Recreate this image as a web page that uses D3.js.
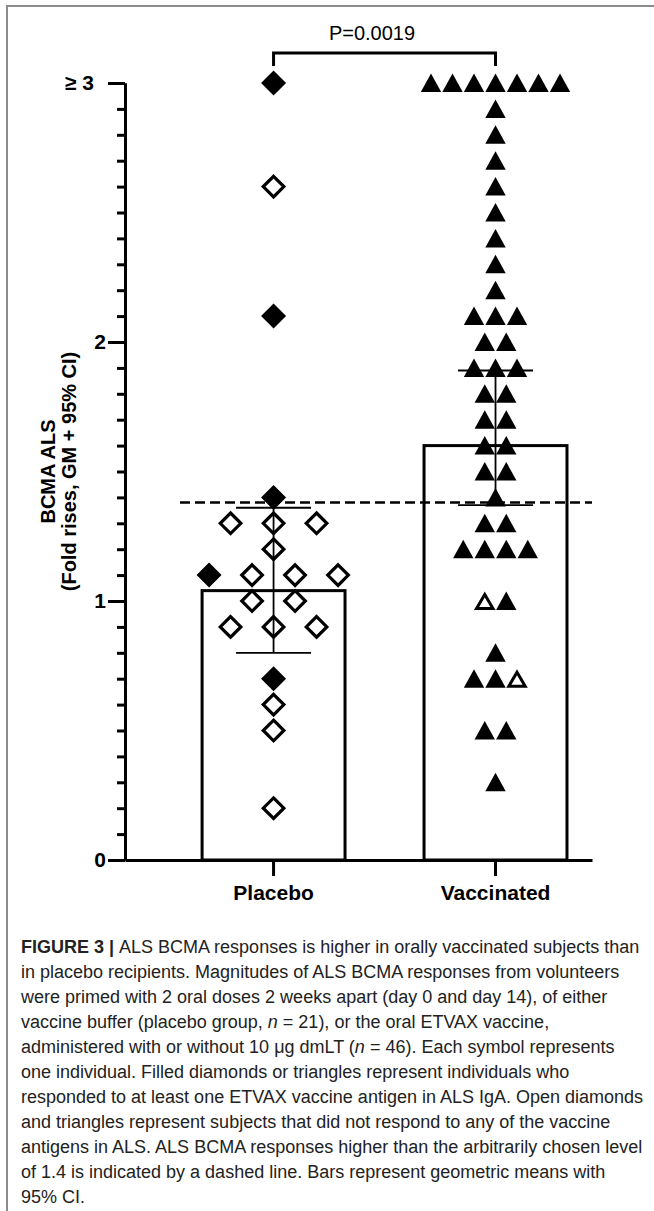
<!DOCTYPE html>
<html><head><meta charset="utf-8">
<script src="https://cdn.jsdelivr.net/npm/d3@7"></script>
<style>body{margin:0;background:#fff}svg{display:block}</style>
</head><body><svg id="c" width="654" height="1211"></svg>
<script>
// ---------------- data ----------------
const categories = ["Placebo", "Vaccinated"];
const placeboValues = [3.0, 2.6, 2.1, 1.4, 1.3, 1.3, 1.3, 1.2, 1.1, 1.1, 1.1, 1.1, 1.0, 1.0, 0.9, 0.9, 0.9, 0.7, 0.6, 0.5, 0.2];
const placeboFilled = [1, 0, 1, 1, 0, 0, 0, 0, 1, 0, 0, 0, 0, 0, 0, 0, 0, 1, 0, 0, 0];
const vaccinatedValues = [3, 3, 3, 3, 3, 3, 3, 2.9, 2.8, 2.7, 2.6, 2.5, 2.4, 2.3, 2.2, 2.1, 2.1, 2.1, 2.0, 2.0, 1.9, 1.9, 1.9, 1.8, 1.8, 1.7, 1.7, 1.6, 1.6, 1.5, 1.5, 1.4, 1.3, 1.3, 1.2, 1.2, 1.2, 1.2, 1.0, 1.0, 0.8, 0.7, 0.7, 0.7, 0.5, 0.5, 0.3];
const vaccinatedFilled = [1, 1, 1, 1, 1, 1, 1, 1, 1, 1, 1, 1, 1, 1, 1, 1, 1, 1, 1, 1, 1, 1, 1, 1, 1, 1, 1, 1, 1, 1, 1, 1, 1, 1, 1, 1, 1, 1, 0, 1, 1, 1, 1, 0, 1, 1, 1];
const geoMeans = [1.04, 1.6];
const ciLower = [0.80, 1.37];
const ciUpper = [1.36, 1.89];
const thresholdValue = 1.38;
const pValueLabel = "P=0.0019";
const yMajorTicks = [0, 1, 2, 3];
const yTickLabels = ["0", "1", "2", "\u2265 3"];
const yTitleLines = ["BCMA ALS", "(Fold rises, GM + 95% CI)"];
const captionLines = [
  [["b", "FIGURE 3 | "], ["", "ALS BCMA responses is higher in orally vaccinated subjects than"]],
  [["", "in placebo recipients. Magnitudes of ALS BCMA responses from volunteers"]],
  [["", "were primed with 2 oral doses 2 weeks apart (day 0 and day 14), of either"]],
  [["", "vaccine buffer (placebo group, "], ["i", "n"], ["", " = 21), or the oral ETVAX vaccine,"]],
  [["", "administered with or without 10 \u03bcg dmLT ("], ["i", "n"], ["", " = 46). Each symbol represents"]],
  [["", "one individual. Filled diamonds or triangles represent individuals who"]],
  [["", "responded to at least one ETVAX vaccine antigen in ALS IgA. Open diamonds"]],
  [["", "and triangles represent subjects that did not respond to any of the vaccine"]],
  [["", "antigens in ALS. ALS BCMA responses higher than the arbitrarily chosen level"]],
  [["", "of 1.4 is indicated by a dashed line. Bars represent geometric means with"]],
  [["", "95% CI."]]
];

// ---------------- setup ----------------
const FONT = "'Liberation Sans', Arial, Helvetica, sans-serif";
const svg = d3.select("#c").style("font-family", FONT);

// frame
svg.append("path").attr("d", "M7,1211V6H654").attr("fill", "none")
  .attr("stroke", "#8c8c8c").attr("stroke-width", 2);

const y = d3.scaleLinear().domain([0, 3]).range([860, 83]);
const x = d3.scaleBand().domain(categories).range([125, 592])
  .paddingInner(0.356).paddingOuter(0.23).align(0.755);
const cx = c => x(c) + x.bandwidth() / 2;

// bars
const barData = categories.map((c, i) => ({c, gm: geoMeans[i], lo: ciLower[i], hi: ciUpper[i]}));
svg.append("g").selectAll("rect").data(barData).join("rect")
  .attr("x", d => x(d.c)).attr("width", x.bandwidth())
  .attr("y", d => y(d.gm)).attr("height", d => y(0) - y(d.gm))
  .attr("fill", "#fff").attr("stroke", "#000").attr("stroke-width", 3);

// threshold dashed line
svg.append("line").attr("x1", 180).attr("x2", 592)
  .attr("y1", y(thresholdValue)).attr("y2", y(thresholdValue))
  .attr("stroke", "#000").attr("stroke-width", 2.5).attr("stroke-dasharray", "10,5");

// error bars
const eb = svg.append("g").attr("stroke", "#000").attr("stroke-width", 1.8);
barData.forEach(d => {
  const c = cx(d.c);
  eb.append("line").attr("x1", c).attr("x2", c).attr("y1", y(d.hi)).attr("y2", y(d.lo));
  eb.append("line").attr("x1", c - 37.5).attr("x2", c + 37.5).attr("y1", y(d.hi)).attr("y2", y(d.hi));
  eb.append("line").attr("x1", c - 37.5).attr("x2", c + 37.5).attr("y1", y(d.lo)).attr("y2", y(d.lo));
});

// points (rows of equal value spread horizontally)
function layout(values, filled, cat, spacing) {
  const groups = d3.group(values.map((v, i) => ({v, f: filled[i], i})), d => d.v);
  const pts = [];
  for (const [v, arr] of groups) {
    arr.forEach((d, k) => pts.push({v, f: d.f, px: cx(cat) + (k - (arr.length - 1) / 2) * spacing}));
  }
  return pts;
}
const placeboPts = layout(placeboValues, placeboFilled, categories[0], 43);
const vaccPts = layout(vaccinatedValues, vaccinatedFilled, categories[1], 21.5);

const diamond = (r) => `M0,${-r}L${r},0L0,${r}L${-r},0Z`;
svg.append("g").selectAll("path").data(placeboPts).join("path")
  .attr("transform", d => `translate(${d.px},${y(d.v)})`)
  .attr("d", d => d.f ? diamond(12.5) : diamond(10.3))
  .attr("fill", d => d.f ? "#000" : "none")
  .attr("stroke", d => d.f ? "none" : "#000")
  .attr("stroke-width", 3.2);

const tri = (w, t, b) => `M0,${t}L${w},${b}L${-w},${b}Z`;
svg.append("g").selectAll("path").data(vaccPts).join("path")
  .attr("transform", d => `translate(${d.px},${y(d.v)})`)
  .attr("d", d => d.f ? tri(10.2, -9.5, 9) : tri(8.2, -6.5, 7.5))
  .attr("fill", d => d.f ? "#000" : "#fff")
  .attr("stroke", d => d.f ? "none" : "#000")
  .attr("stroke-width", 3)
  .attr("stroke-linejoin", "miter");

// y axis
const gy = svg.append("g").attr("transform", "translate(125,0)");
gy.call(d3.axisLeft(y).tickValues(d3.range(0, 31).map(k => k / 10).filter(v => !yMajorTicks.includes(v)))
  .tickSize(8).tickSizeOuter(0).tickFormat(""));
gy.append("g").call(d3.axisLeft(y).tickValues(yMajorTicks).tickSize(17).tickSizeOuter(0).tickPadding(2)
  .tickFormat((d, i) => yTickLabels[i]));
gy.selectAll("path.domain").attr("stroke-width", 3);
gy.selectAll(".tick line").attr("stroke-width", 3);
gy.selectAll("text").attr("font-family", FONT).attr("font-size", 21).attr("font-weight", "bold").attr("fill", "#000");
gy.selectAll(".tick text").filter(d => d === 3).attr("x", -31);

// x axis
const gx = svg.append("g").attr("transform", `translate(0,${y(0)})`);
gx.call(d3.axisBottom(x).tickSize(16).tickSizeOuter(0));
gx.select("path.domain").attr("stroke-width", 3);
gx.selectAll(".tick line").attr("stroke-width", 3);
gx.selectAll(".tick text").attr("y", 40).attr("dy", 0).attr("font-family", FONT)
  .attr("font-size", 21).attr("font-weight", "bold").attr("fill", "#000");

// y title
const yt = svg.append("text").attr("transform", `translate(0,${(y(0) + y(3)) / 2}) rotate(-90)`)
  .attr("text-anchor", "middle").attr("font-weight", "bold").attr("font-size", 20);
yt.append("tspan").attr("x", 0).attr("y", 55).text(yTitleLines[0]);
yt.append("tspan").attr("x", 0).attr("y", 76).text(yTitleLines[1]);

// significance bracket
const bx1 = cx(categories[0]), bx2 = cx(categories[1]);
svg.append("path").attr("d", `M${bx1},66V53H${bx2}V66`).attr("fill", "none")
  .attr("stroke", "#000").attr("stroke-width", 3);
svg.append("text").attr("x", 372).attr("y", 40).attr("text-anchor", "middle")
  .attr("font-size", 20).text(pValueLabel);

// caption
const cap = svg.append("g").attr("font-size", 18).attr("fill", "#222");
captionLines.forEach((parts, li) => {
  const t = cap.append("text").attr("x", 21).attr("y", 953 + li * 25);
  parts.forEach(([s, str]) => {
    const ts = t.append("tspan").text(str);
    if (s === "b") ts.attr("font-weight", "bold");
    if (s === "i") ts.attr("font-style", "italic");
  });
});
</script>
</body></html>
